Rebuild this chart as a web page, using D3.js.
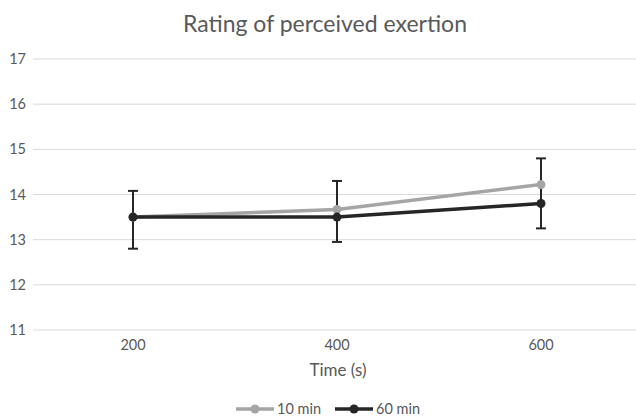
<!DOCTYPE html>
<html>
<head>
<meta charset="utf-8">
<script src="https://cdn.jsdelivr.net/npm/d3@7"></script>
<style>
  body { margin: 0; background: #fff; }
  text { font-family: Lato, "Open Sans", sans-serif; fill: #595959; }
</style>
</head>
<body>
<div id="chart"></div>
<script>
// Chart size
const width = 636;
const height = 419;

// Data
const times = ["200", "400", "600"];
const yTicks = [11, 12, 13, 14, 15, 16, 17];
const series10 = [13.5, 13.67, 14.22];
const series60 = [13.5, 13.5, 13.8];
const errUpper = [14.08, 14.3, 14.8];
const errLower = [12.8, 12.95, 13.25];
const seriesNames = ["10 min", "60 min"];
const seriesColors = ["#a5a5a5", "#262626"];

const svg = d3.select("#chart")
  .append("svg")
  .attr("width", width)
  .attr("height", height);

const x = d3.scalePoint()
  .domain(times)
  .range([31, 643])
  .padding(0.5);

const y = d3.scaleLinear()
  .domain([11, 17])
  .range([330, 59]);

// Title
svg.append("text")
  .attr("x", 325)
  .attr("y", 32)
  .attr("text-anchor", "middle")
  .attr("font-size", "23px")
  .text("Rating of perceived exertion");

// Gridlines
svg.selectAll(".grid")
  .data(yTicks)
  .enter()
  .append("line")
  .attr("x1", 33)
  .attr("x2", width)
  .attr("y1", d => y(d))
  .attr("y2", d => y(d))
  .attr("stroke", "#d9d9d9")
  .attr("stroke-width", 1);

// Y labels
svg.selectAll(".ylab")
  .data(yTicks)
  .enter()
  .append("text")
  .attr("x", 26)
  .attr("y", d => y(d) + 5)
  .attr("text-anchor", "end")
  .attr("font-size", "14.5px")
  .text(d => d);

// X labels
svg.selectAll(".xlab")
  .data(times)
  .enter()
  .append("text")
  .attr("x", d => x(d))
  .attr("y", 350)
  .attr("text-anchor", "middle")
  .attr("font-size", "14.5px")
  .text(d => d);

// Axis title
svg.append("text")
  .attr("x", 338)
  .attr("y", 376)
  .attr("text-anchor", "middle")
  .attr("font-size", "17px")
  .text("Time (s)");

const line = d3.line()
  .x((d, i) => x(times[i]))
  .y(d => y(d));

// Error bars
const errData = times.map((t, i) => ({ t, hi: errUpper[i], lo: errLower[i] }));
const eb = svg.selectAll(".err")
  .data(errData)
  .enter()
  .append("g")
  .attr("stroke", "#262626")
  .attr("stroke-width", 2);
eb.append("line")
  .attr("x1", d => x(d.t)).attr("x2", d => x(d.t))
  .attr("y1", d => y(d.hi)).attr("y2", d => y(d.lo));
eb.append("line")
  .attr("x1", d => x(d.t) - 5).attr("x2", d => x(d.t) + 5)
  .attr("y1", d => y(d.hi)).attr("y2", d => y(d.hi));
eb.append("line")
  .attr("x1", d => x(d.t) - 5).attr("x2", d => x(d.t) + 5)
  .attr("y1", d => y(d.lo)).attr("y2", d => y(d.lo));

// Lines and markers
[series10, series60].forEach((s, k) => {
  svg.append("path")
    .datum(s)
    .attr("d", line)
    .attr("fill", "none")
    .attr("stroke", seriesColors[k])
    .attr("stroke-width", 3.5);
  svg.selectAll(".pt" + k)
    .data(s)
    .enter()
    .append("circle")
    .attr("cx", (d, i) => x(times[i]))
    .attr("cy", d => y(d))
    .attr("r", 4.5)
    .attr("fill", seriesColors[k]);
});

// Legend
const legend = svg.selectAll(".legend")
  .data(seriesNames)
  .enter()
  .append("g")
  .attr("transform", (d, i) => `translate(${236 + i * 99}, 409)`);
legend.append("line")
  .attr("x1", 0).attr("x2", 38)
  .attr("stroke", (d, i) => seriesColors[i])
  .attr("stroke-width", 3.5);
legend.append("circle")
  .attr("cx", 19)
  .attr("r", 4.5)
  .attr("fill", (d, i) => seriesColors[i]);
legend.append("text")
  .attr("x", 41)
  .attr("y", 5)
  .attr("font-size", "14.5px")
  .text(d => d);
</script>
</body>
</html>
